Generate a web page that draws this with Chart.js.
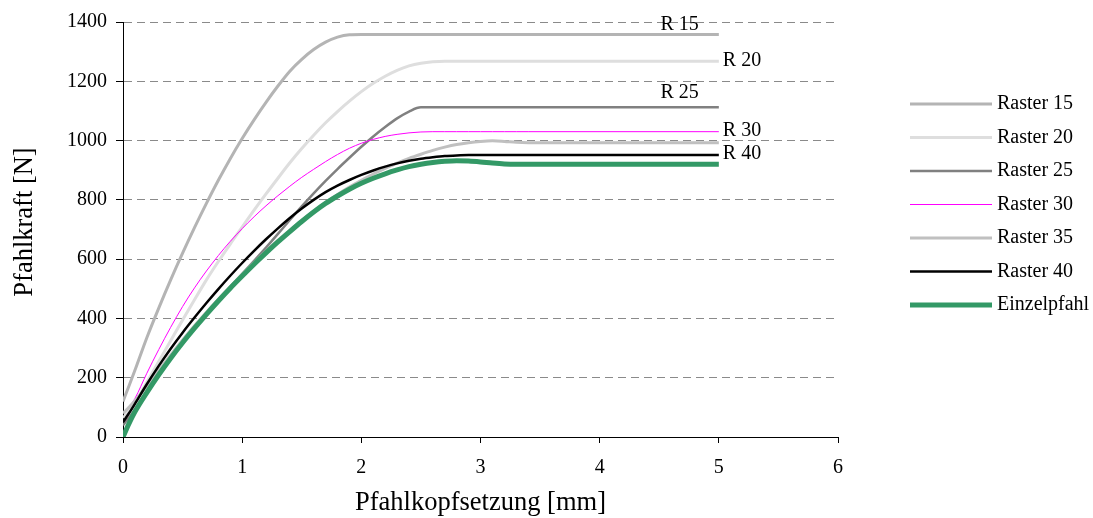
<!DOCTYPE html>
<html>
<head>
<meta charset="utf-8">
<script src="https://cdn.jsdelivr.net/npm/chart.js@4/dist/chart.umd.min.js"></script>
<style>
  html, body { margin: 0; padding: 0; background: #fff; }
  #wrap { width: 1093px; height: 518px; }
</style>
</head>
<body>
<div id="wrap"><canvas id="chart" width="1093" height="518"></canvas></div>
<script>
// Pile head settlement [mm] shared by all load curves
const settlement = [0, 0.05, 0.1, 0.2, 0.3, 0.4, 0.5, 0.6, 0.7, 0.8, 0.9,
  1.0, 1.1, 1.2, 1.3, 1.4, 1.5, 1.6, 1.7, 1.8, 1.9,
  2.0, 2.1, 2.2, 2.3, 2.4, 2.5, 2.6, 2.7, 2.8, 2.9,
  3.0, 3.1, 3.2, 3.3, 3.4, 5.0];

// Pile force [N] per grid spacing
const raster15 = [120, 172, 225, 335, 435, 530, 620, 706, 788, 866, 939,
  1007, 1070, 1129, 1184, 1234, 1274, 1307, 1332, 1349, 1357,
  1358, 1358, 1358, 1358, 1358, 1358, 1358, 1358, 1358, 1358,
  1358, 1358, 1358, 1358, 1358, 1358];
const raster20 = [65, 85, 115, 185, 255, 325, 395, 463, 530, 592, 651,
  708, 765, 820, 873, 925, 973, 1018, 1060, 1098, 1133,
  1165, 1193, 1217, 1237, 1252, 1261, 1266, 1268, 1268, 1268,
  1268, 1268, 1268, 1268, 1268, 1268];
const raster25 = [40, 65, 92, 155, 215, 270, 322, 371, 418, 463, 507,
  550, 594, 639, 685, 732, 778, 822, 864, 904, 942,
  979, 1014, 1046, 1075, 1098, 1112, 1112, 1112, 1112, 1112,
  1112, 1112, 1112, 1112, 1112, 1112];
const raster30 = [85, 100, 130, 215, 295, 370, 440, 503, 560, 612, 660,
  703, 743, 780, 814, 846, 876, 903, 929, 953, 974,
  991, 1004, 1014, 1021, 1026, 1029, 1030, 1030, 1030, 1030,
  1030, 1030, 1030, 1030, 1030, 1030];
const raster35 = [80, 100, 122, 172, 225, 277, 327, 375, 421, 465, 507,
  548, 588, 626, 663, 698, 731, 762, 791, 818, 843,
  866, 887, 906, 924, 940, 954, 967, 978, 987, 993,
  997, 999, 997, 994, 993, 993];
const raster40 = [50, 80, 112, 178, 240, 298, 352, 403, 452, 499, 544,
  587, 628, 667, 704, 739, 771, 800, 826, 848, 867,
  884, 899, 912, 923, 932, 939, 944, 948, 950, 951,
  951, 951, 951, 951, 951, 951];
const einzelpfahl = [0, 45, 85, 150, 210, 266, 318, 367, 414, 459, 502,
  543, 583, 621, 658, 693, 727, 759, 788, 813, 836,
  856, 873, 888, 901, 912, 920, 926, 930, 932, 931,
  928, 924, 921, 920, 920, 920];

const seriesNames = ['Raster 15', 'Raster 20', 'Raster 25', 'Raster 30', 'Raster 35', 'Raster 40', 'Einzelpfahl'];
const seriesValues = [raster15, raster20, raster25, raster30, raster35, raster40, einzelpfahl];
const endLabels = ['R 15', 'R 20', 'R 25', 'R 30', null, 'R 40', null];

const xTicks = [0, 1, 2, 3, 4, 5, 6];
const yTicks = [0, 200, 400, 600, 800, 1000, 1200, 1400];

// Line appearance per series
const lineStyles = [
  { color: '#b4b4b4', width: 3,   order: 6 },
  { color: '#dedede', width: 3,   order: 5 },
  { color: '#808080', width: 2.5, order: 4 },
  { color: '#ff00ff', width: 1,   order: 3 },
  { color: '#c0c0c0', width: 3,   order: 2 },
  { color: '#000000', width: 2.5, order: 0 },
  { color: '#339966', width: 5,   order: 1 }
];
// Where each end label sits relative to the last point of its curve
const endLabelPlacement = [
  { dx: -20, dy: -10, align: 'right' },
  { dx: 4, dy: 0, align: 'left' },
  { dx: -20, dy: -15, align: 'right' },
  { dx: 4, dy: -1, align: 'left' },
  null,
  { dx: 4, dy: -1, align: 'left' },
  null
];

const SERIF = "'Liberation Serif', 'Times New Roman', serif";
Chart.defaults.font.family = SERIF;
Chart.defaults.color = '#000';

const datasets = seriesNames.map((name, i) => ({
  label: name,
  data: settlement.map((x, k) => ({ x: x, y: seriesValues[i][k] })),
  borderColor: lineStyles[i].color,
  backgroundColor: lineStyles[i].color,
  borderWidth: lineStyles[i].width,
  order: lineStyles[i].order,
  pointRadius: 0,
  fill: false,
  cubicInterpolationMode: 'monotone',
  endLabel: endLabels[i],
  endLabelPos: endLabelPlacement[i]
}));

// Text at the right end of selected curves
const endLabelPlugin = {
  id: 'endLabels',
  afterDatasetsDraw(chart) {
    const ctx = chart.ctx;
    chart.data.datasets.forEach((ds, i) => {
      if (!ds.endLabel) return;
      const meta = chart.getDatasetMeta(i);
      const pt = meta.data[meta.data.length - 1];
      const p = ds.endLabelPos;
      ctx.save();
      ctx.font = '20px ' + SERIF;
      ctx.fillStyle = '#000';
      ctx.textAlign = p.align;
      ctx.textBaseline = 'middle';
      ctx.fillText(ds.endLabel, pt.x + p.dx, pt.y + p.dy);
      ctx.restore();
    });
  }
};

// Legend column to the right of the plot
const sideLegendPlugin = {
  id: 'sideLegend',
  afterDraw(chart) {
    const ctx = chart.ctx;
    const x0 = 910, x1 = 992, textX = 997, top = 104, step = 33.5;
    chart.data.datasets.forEach((ds, i) => {
      const y = top + i * step;
      ctx.save();
      ctx.strokeStyle = ds.borderColor;
      ctx.lineWidth = ds.borderWidth;
      ctx.beginPath();
      ctx.moveTo(x0, y);
      ctx.lineTo(x1, y);
      ctx.stroke();
      ctx.font = '20px ' + SERIF;
      ctx.fillStyle = '#000';
      ctx.textAlign = 'left';
      ctx.textBaseline = 'middle';
      ctx.fillText(ds.label, textX, y);
      ctx.restore();
    });
  }
};

// Vertical axis title, placed beside the value axis
const yTitlePlugin = {
  id: 'yTitle',
  afterDraw(chart) {
    const ctx = chart.ctx;
    const area = chart.chartArea;
    ctx.save();
    ctx.translate(25, (area.top + area.bottom) / 2 - 7.5);
    ctx.rotate(-Math.PI / 2);
    ctx.font = '26.5px ' + SERIF;
    ctx.fillStyle = '#000';
    ctx.textAlign = 'center';
    ctx.textBaseline = 'middle';
    ctx.fillText('Pfahlkraft [N]', 0, 0);
    ctx.restore();
  }
};

new Chart(document.getElementById('chart'), {
  type: 'line',
  data: { datasets: datasets },
  plugins: [endLabelPlugin, sideLegendPlugin, yTitlePlugin],
  options: {
    responsive: false,
    animation: false,
    events: [],
    layout: { padding: { top: 22, right: 255, bottom: 0, left: 0 } },
    plugins: { legend: { display: false }, tooltip: { enabled: false } },
    scales: {
      x: {
        type: 'linear',
        min: xTicks[0],
        max: xTicks[xTicks.length - 1],
        afterBuildTicks(scale) { scale.ticks = xTicks.map(v => ({ value: v })); },
        afterFit(scale) { scale.height = 81; },
        grid: { drawOnChartArea: false, drawTicks: true, tickLength: 6, tickColor: '#000', tickWidth: 1 },
        border: { color: '#000', width: 1 },
        ticks: { padding: 13, font: { size: 20 }, color: '#000', maxRotation: 0, callback: v => String(v) },
        title: { display: true, text: 'Pfahlkopfsetzung [mm]', font: { size: 26.5, lineHeight: 1.1 }, padding: { top: 0, bottom: 0.5 }, color: '#000' }
      },
      y: {
        type: 'linear',
        min: yTicks[0],
        max: yTicks[yTicks.length - 1],
        afterBuildTicks(scale) { scale.ticks = yTicks.map(v => ({ value: v })); },
        afterFit(scale) { scale.width = 123; },
        grid: { color: '#8a8a8a', lineWidth: 1, drawTicks: true, tickLength: 7, tickColor: '#000', tickWidth: 1, tickBorderDash: [] },
        border: { color: '#000', width: 1, dash: [8, 5] },
        ticks: { padding: 9, font: { size: 20 }, color: '#000', callback: v => String(v) },
        title: { display: false }
      }
    }
  }
});
</script>
</body>
</html>
